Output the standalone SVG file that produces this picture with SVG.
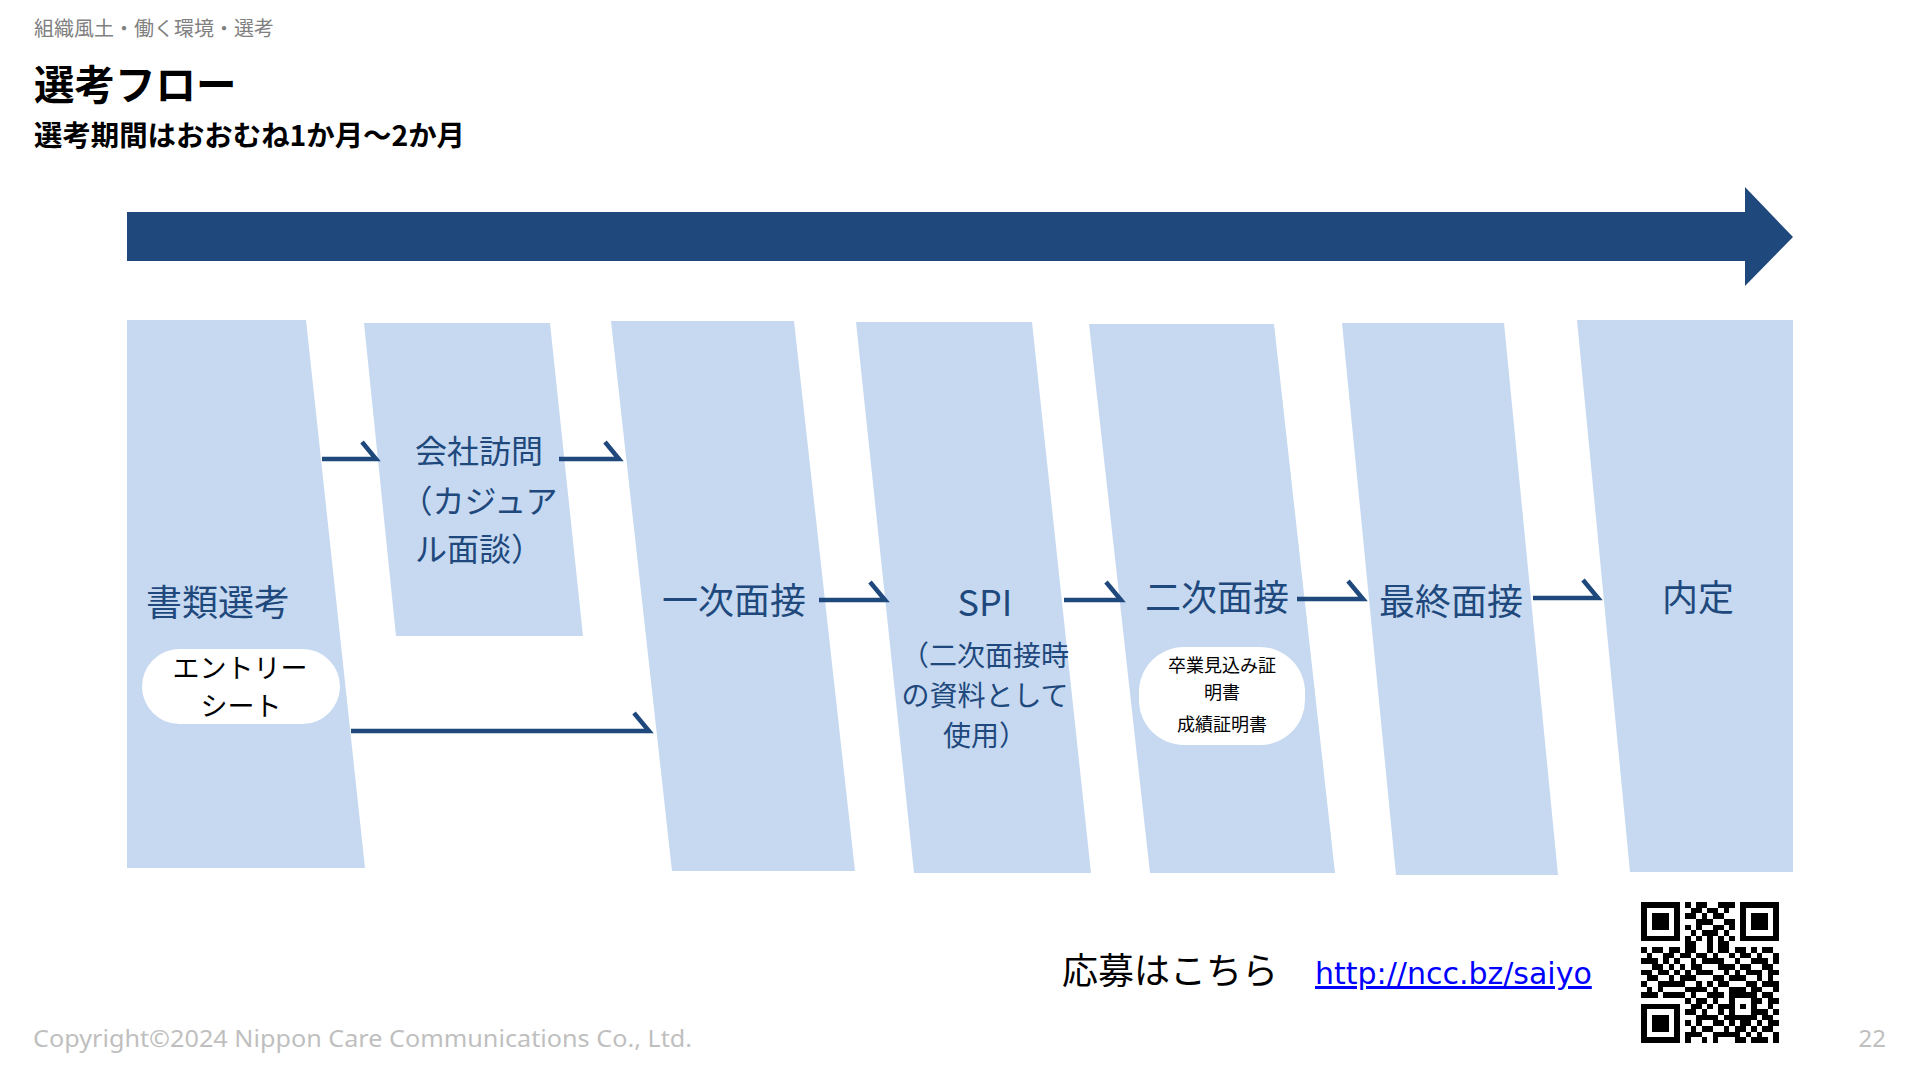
<svg xmlns="http://www.w3.org/2000/svg" width="1920" height="1080" viewBox="0 0 1920 1080">
<style>
.jp{font-family:"Noto Sans CJK JP","Noto Sans",sans-serif;}
.lbl{font-family:"Noto Sans CJK JP","Noto Sans",sans-serif;fill:#1F497D;font-size:36px;text-anchor:middle;}
.sub{font-family:"Noto Sans CJK JP","Noto Sans",sans-serif;fill:#1F497D;font-size:28px;text-anchor:middle;}
.box{fill:#C6D9F1;}
.pill{fill:#FFFFFF;}
.conn{fill:none;stroke:#1F497D;stroke-width:4.5;stroke-linejoin:miter;}
.gray{font-family:"Noto Sans","DejaVu Sans",sans-serif;fill:#BFBFBF;font-size:24px;}
</style>
<rect width="1920" height="1080" fill="#FFFFFF"/>

<g id="header">
<text class="jp" x="34" y="36" font-size="20" fill="#808080">組織風土・働く環境・選考</text>
<text class="jp" x="34" y="100" font-size="40.5" font-weight="bold" fill="#000000">選考フロー</text>
<text class="jp" x="34" y="146" font-size="28.4" font-weight="bold" fill="#000000">選考期間はおおむね1か月～2か月</text>
</g>

<g id="timeline-arrow">
<polygon points="127,212 1745,212 1745,187 1793,237 1745,286 1745,261 127,261" fill="#1F497D"/>
</g>

<g id="node-shorui">
<polygon class="box" points="127,320 306,320 365,868 127,868"/>
<text class="lbl" x="218" y="616">書類選考</text>
<rect class="pill" x="142" y="649" width="198" height="75" rx="37.5"/>
<text class="jp" x="240" y="678" font-size="27" fill="#000000" text-anchor="middle">エントリー</text>
<text class="jp" x="241" y="716" font-size="27" fill="#000000" text-anchor="middle">シート</text>
</g>

<g id="node-houmon">
<polygon class="box" points="364,323 550,323 583,636 396,636"/>
<text class="jp" x="479" y="463" font-size="32" fill="#1F497D" text-anchor="middle">会社訪問</text>
<text class="jp" x="479" y="513" font-size="32" fill="#1F497D" text-anchor="middle">（カジュア</text>
<text class="jp" x="479" y="561" font-size="32" fill="#1F497D" text-anchor="middle">ル面談）</text>
</g>

<g id="node-ichiji">
<polygon class="box" points="611,321 794,321 855,871 672,871"/>
<text class="lbl" x="734" y="614">一次面接</text>
</g>

<g id="node-spi">
<polygon class="box" points="856,322 1032,322 1091,873 914,873"/>
<text class="lbl" x="985" y="616" font-size="38">SPI</text>
<text class="sub" x="985" y="666">（二次面接時</text>
<text class="sub" x="985" y="706">の資料として</text>
<text class="sub" x="985" y="746">使用）</text>
</g>

<g id="node-niji">
<polygon class="box" points="1089,324 1274,324 1335,873 1150,873"/>
<text class="lbl" x="1217" y="611">二次面接</text>
<rect class="pill" x="1139" y="647" width="166" height="98" rx="45"/>
<text class="jp" x="1222" y="672" font-size="18" fill="#000000" text-anchor="middle">卒業見込み証</text>
<text class="jp" x="1222" y="699" font-size="18" fill="#000000" text-anchor="middle">明書</text>
<text class="jp" x="1222" y="731" font-size="18" fill="#000000" text-anchor="middle">成績証明書</text>
</g>

<g id="node-saishu">
<polygon class="box" points="1342,323 1504,323 1558,875 1396,875"/>
<text class="lbl" x="1451" y="615">最終面接</text>
</g>

<g id="node-naitei">
<polygon class="box" points="1577,320 1793,320 1793,872 1630,872"/>
<text class="lbl" x="1698" y="611">内定</text>
</g>

<g id="connectors">
<path class="conn" d="M351,731 H649 l-15,-18"/>
<path class="conn" d="M322,459 H376 l-14,-17"/>
<path class="conn" d="M559,459 H619 l-14,-17"/>
<path class="conn" d="M819,600 H885 l-15,-18"/>
<path class="conn" d="M1064,600 H1121 l-15,-18"/>
<path class="conn" d="M1297,599 H1363 l-15,-18"/>
<path class="conn" d="M1533,598 H1598 l-15,-18"/>
</g>

<g id="apply">
<text class="jp" x="1062" y="984" font-size="36" fill="#000000">応募はこちら</text>
<text x="1315" y="984" font-family="DejaVu Sans, Verdana, sans-serif" font-size="30" fill="#0000FF" text-decoration="underline">http://ncc.bz/saiyo</text>
</g>

<g id="qr" transform="translate(1641,902) scale(5.5,5.64)" fill="#000000" shape-rendering="crispEdges">
<path d="M0 0h7v1h-7z M8 0h1v1h-1z M10 0h2v1h-2z M14 0h3v1h-3z M18 0h7v1h-7z
M0 1h1v1h-1z M6 1h1v1h-1z M9 1h2v1h-2z M12 1h2v1h-2z M15 1h1v1h-1z M18 1h1v1h-1z M24 1h1v1h-1z
M0 2h1v1h-1z M2 2h3v1h-3z M6 2h1v1h-1z M8 2h2v1h-2z M11 2h1v1h-1z M13 2h2v1h-2z M18 2h1v1h-1z M20 2h3v1h-3z M24 2h1v1h-1z
M0 3h1v1h-1z M2 3h3v1h-3z M6 3h1v1h-1z M10 3h3v1h-3z M15 3h2v1h-2z M18 3h1v1h-1z M20 3h3v1h-3z M24 3h1v1h-1z
M0 4h1v1h-1z M2 4h3v1h-3z M6 4h1v1h-1z M8 4h1v1h-1z M10 4h1v1h-1z M13 4h2v1h-2z M16 4h1v1h-1z M18 4h1v1h-1z M20 4h3v1h-3z M24 4h1v1h-1z
M0 5h1v1h-1z M6 5h1v1h-1z M9 5h1v1h-1z M11 5h3v1h-3z M15 5h1v1h-1z M18 5h1v1h-1z M24 5h1v1h-1z
M0 6h7v1h-7z M8 6h1v1h-1z M10 6h1v1h-1z M12 6h1v1h-1z M14 6h1v1h-1z M16 6h1v1h-1z M18 6h7v1h-7z
M8 7h2v1h-2z M12 7h1v1h-1z M14 7h2v1h-2z
M0 8h1v1h-1z M2 8h2v1h-2z M5 8h2v1h-2z M8 8h2v1h-2z M12 8h1v1h-1z M14 8h2v1h-2z M17 8h2v1h-2z M20 8h1v1h-1z M22 8h2v1h-2z
M1 9h1v1h-1z M4 9h2v1h-2z M7 9h2v1h-2z M10 9h2v1h-2z M13 9h1v1h-1z M16 9h1v1h-1z M18 9h2v1h-2z M21 9h1v1h-1z M24 9h1v1h-1z
M0 10h3v1h-3z M4 10h1v1h-1z M6 10h1v1h-1z M9 10h1v1h-1z M11 10h4v1h-4z M17 10h1v1h-1z M20 10h3v1h-3z M24 10h1v1h-1z
M2 11h2v1h-2z M5 11h1v1h-1z M7 11h1v1h-1z M9 11h2v1h-2z M14 11h3v1h-3z M18 11h2v1h-2z M22 11h2v1h-2z
M0 12h2v1h-2z M3 12h2v1h-2z M6 12h1v1h-1z M8 12h1v1h-1z M10 12h3v1h-3z M15 12h1v1h-1z M17 12h1v1h-1z M19 12h3v1h-3z M23 12h2v1h-2z
M1 13h2v1h-2z M5 13h1v1h-1z M7 13h3v1h-3z M13 13h2v1h-2z M16 13h3v1h-3z M21 13h1v1h-1z M23 13h1v1h-1z
M0 14h1v1h-1z M3 14h5v1h-5z M10 14h1v1h-1z M12 14h1v1h-1z M14 14h2v1h-2z M19 14h2v1h-2z M22 14h3v1h-3z
M1 15h1v1h-1z M3 15h1v1h-1z M8 15h4v1h-4z M13 15h1v1h-1z M16 15h3v1h-3z M20 15h2v1h-2z M24 15h1v1h-1z
M0 16h3v1h-3z M4 16h4v1h-4z M9 16h1v1h-1z M12 16h3v1h-3z M16 16h5v1h-5z M22 16h2v1h-2z
M8 17h1v1h-1z M10 17h2v1h-2z M13 17h1v1h-1z M16 17h1v1h-1z M20 17h2v1h-2z M23 17h2v1h-2z
M0 18h7v1h-7z M9 18h2v1h-2z M12 18h1v1h-1z M14 18h3v1h-3z M18 18h1v1h-1z M20 18h1v1h-1z M23 18h1v1h-1z
M0 19h1v1h-1z M6 19h1v1h-1z M8 19h2v1h-2z M11 19h1v1h-1z M14 19h1v1h-1z M16 19h1v1h-1z M20 19h3v1h-3z M24 19h1v1h-1z
M0 20h1v1h-1z M2 20h3v1h-3z M6 20h1v1h-1z M10 20h4v1h-4z M15 20h6v1h-6z M22 20h2v1h-2z
M0 21h1v1h-1z M2 21h3v1h-3z M6 21h1v1h-1z M8 21h1v1h-1z M10 21h1v1h-1z M13 21h2v1h-2z M16 21h1v1h-1z M18 21h2v1h-2z M21 21h1v1h-1z M23 21h2v1h-2z
M0 22h1v1h-1z M2 22h3v1h-3z M6 22h1v1h-1z M9 22h1v1h-1z M11 22h2v1h-2z M15 22h1v1h-1z M17 22h2v1h-2z M20 22h1v1h-1z M22 22h2v1h-2z
M0 23h1v1h-1z M6 23h1v1h-1z M8 23h3v1h-3z M13 23h5v1h-5z M19 23h1v1h-1z M21 23h1v1h-1z M24 23h1v1h-1z
M0 24h7v1h-7z M8 24h1v1h-1z M11 24h1v1h-1z M13 24h1v1h-1z M17 24h2v1h-2z M20 24h3v1h-3z M24 24h1v1h-1z"/>
</g>

<g id="footer">
<text class="gray" x="33" y="1047" textLength="659" lengthAdjust="spacingAndGlyphs">Copyright©2024 Nippon Care Communications Co., Ltd.</text>
<text class="gray" x="1886" y="1047" text-anchor="end">22</text>
</g>
</svg>
